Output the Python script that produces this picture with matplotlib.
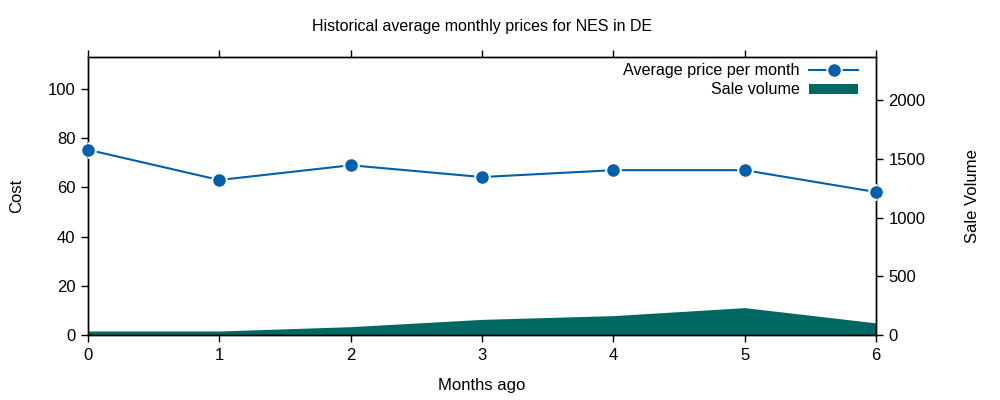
import matplotlib.pyplot as plt
from matplotlib.lines import Line2D
from matplotlib.patches import Patch
from matplotlib.legend_handler import HandlerTuple

plt.rcParams['font.family'] = ['Liberation Sans', 'DejaVu Sans']
plt.rcParams['font.size'] = 12

# data
months = [0, 1, 2, 3, 4, 5, 6]
avg_price = [75.3, 63.0, 69.0, 64.2, 67.0, 67.0, 58.1]
sale_volume = [34, 34, 71, 133, 165, 233, 103]

line_color = '#0060ad'
fill_color = '#006862'

fig = plt.figure(figsize=(10, 4), dpi=100)
ax = fig.add_axes([0.088, 0.1625, 0.788, 0.695])
ax2 = ax.twinx()

# volume area on the right axis, price line drawn above it
ax2.fill_between(months, 0, sale_volume, color=fill_color, linewidth=0)
ax.set_zorder(ax2.get_zorder() + 1)
ax.patch.set_visible(False)

ax.plot(months, avg_price, color=line_color, linewidth=1.5, zorder=2)
ax.plot(months, avg_price, linestyle='none', marker='o', markersize=12,
        markerfacecolor='white', markeredgecolor='none', zorder=3)
ax.plot(months, avg_price, linestyle='none', marker='o', markersize=8,
        markerfacecolor=line_color, markeredgecolor=line_color, zorder=4,
        clip_on=False)

ax.set_xlim(0, 6)
ax.set_ylim(0, 113)
ax2.set_ylim(0, 2366)
ax.set_xticks(months)
ax.set_yticks([0, 20, 40, 60, 80, 100])
ax2.set_yticks([0, 500, 1000, 1500, 2000])

for a in (ax, ax2):
    for s in a.spines.values():
        s.set_linewidth(1)
        s.set_color('black')
ax.tick_params(direction='out', length=5, width=1, pad=4, top=True)
ax2.tick_params(direction='out', length=5, width=1, pad=4)

ax.set_xlabel('Months ago', labelpad=11)
ax.set_ylabel('Cost', labelpad=17)
ax2.set_ylabel('Sale Volume', labelpad=28)
ax.set_title('Historical average monthly prices for NES in DE', fontsize=11.5, pad=19)

h_line = Line2D([], [], color=line_color, linewidth=1.5)
h_halo = Line2D([], [], linestyle='none', marker='o', markersize=12,
                markerfacecolor='white', markeredgecolor='none')
h_mark = Line2D([], [], linestyle='none', marker='o', markersize=8,
                markerfacecolor=line_color, markeredgecolor=line_color)
h_fill = Patch(facecolor=fill_color, edgecolor='none')
ax.legend([(h_line, h_halo, h_mark), h_fill],
          ['Average price per month', 'Sale volume'],
          handler_map={tuple: HandlerTuple(ndivide=1)},
          loc='upper right', frameon=False, markerfirst=False,
          handlelength=3.0, handleheight=0.6, handletextpad=0.62,
          labelspacing=0.25, borderaxespad=0.0, fontsize=11.6,
          bbox_to_anchor=(0.985, 1.0))

fig.savefig('out.png', dpi=100)
